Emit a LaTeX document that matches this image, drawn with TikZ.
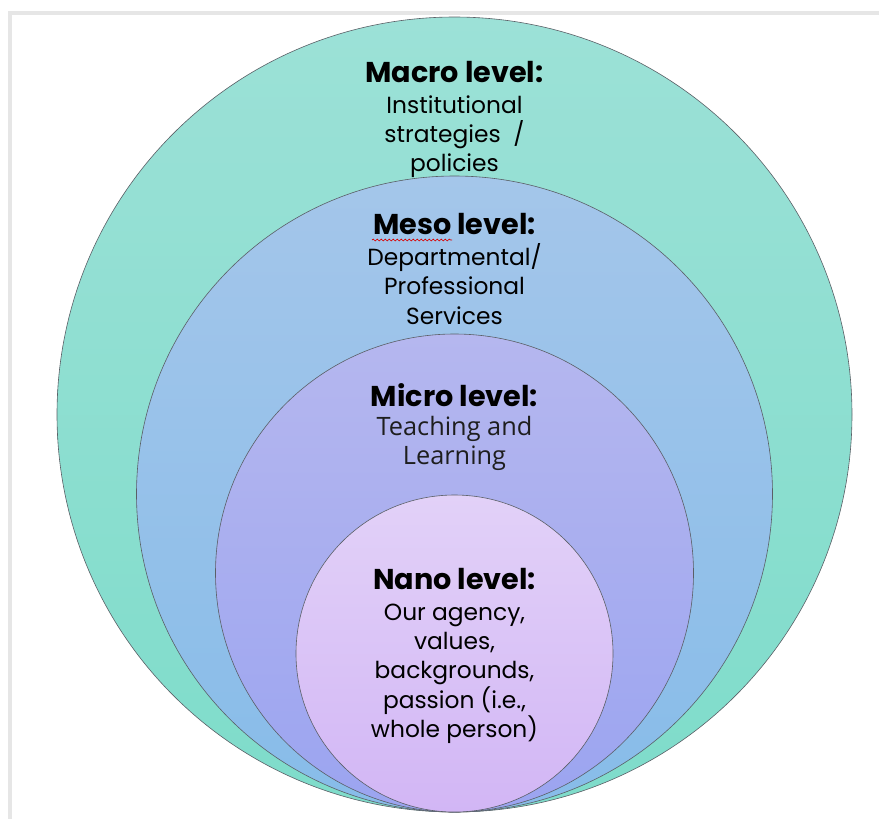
\documentclass[tikz,border=0pt]{standalone}
\usepackage{fontspec}
\setmainfont{Poppins}
\newfontfamily\uifont{Open Sans}
\usepackage{tikz}
\usetikzlibrary{positioning,decorations.pathmorphing}
\usepackage{xcolor}
\definecolor{macrotop}{HTML}{9CE1D7}
\definecolor{macrobot}{HTML}{7EDCCA}
\definecolor{mesotop}{HTML}{A4C6EA}
\definecolor{mesobot}{HTML}{87BCE9}
\definecolor{microtop}{HTML}{B5B7EF}
\definecolor{microbot}{HTML}{9BA4F0}
\definecolor{nanotop}{HTML}{E2D1F8}
\definecolor{nanobot}{HTML}{D2B6F5}
\definecolor{ringedge}{HTML}{5A5F66}
\definecolor{framegray}{HTML}{E6E6E6}
\definecolor{uitext}{HTML}{1E1E1E}
\newcommand{\lvtitle}{\fontsize{21.5}{24}\selectfont\bfseries}
\newcommand{\lvui}{\uifont\fontsize{19}{22}\selectfont\color{uitext}}

\begin{document}
\begin{tikzpicture}[
    x=0.75pt, y=-0.75pt,
    ring/.style 2 args={
      circle, draw=ringedge, line width=0.45pt,
      top color=#1, bottom color=#2,
      inner sep=0pt,
    },
    leveltext/.style={
      align=center, inner sep=0pt, text=black,
      font=\fontsize{17.5}{22}\selectfont,
    },
    frameline/.style={draw=framegray, line width=3pt},
    spellmark/.style={
      draw=red!85!black, line width=0.5pt,
      decorate, decoration={snake, amplitude=0.7pt, segment length=3pt}
    },
  ]
  \useasboundingbox (0,0) rectangle (879,819);

  % =================== Frame ===================
  \draw[frameline] (10,819) -- (10,13) -- (879,13);

  % =================== Nested levels ===================
  \node[ring={macrotop}{macrobot}, minimum size=596.25pt] (macro) at (454.5,414.5) {};
  \node[ring={mesotop}{mesobot}, minimum size=477pt] (meso) at (454.5,494) {};
  \node[ring={microtop}{microbot}, minimum size=358.5pt] (micro) at (454.5,573) {};
  \node[ring={nanotop}{nanobot}, minimum size=237.75pt] (nano) at (454.5,653.5) {};

  % =================== Labels ===================
  \node[leveltext] (macrotxt) at (454.5,119.5)
    {{\lvtitle Macro level:}\\[1pt]Institutional\\strategies \;/\\policies};
  \node[leveltext] (mesotxt) at (454.5,269)
    {{\lvtitle Meso level:}\\[1pt]Departmental/\\Professional\\Services};
  \node[leveltext] (microtxt) at (454.5,427)
    {{\lvtitle Micro level:}\\[0pt]{\lvui Teaching and}\\{\lvui Learning}};
  \node[leveltext] (nanotxt) at (454.5,656)
    {{\lvtitle Nano level:}\\[1pt]Our agency,\\values,\\backgrounds,\\passion (i.e.,\\whole person)};

  % spelling mark under "Meso"
  \draw[spellmark] (372,240) -- (452,240);

\end{tikzpicture}
\end{document}
